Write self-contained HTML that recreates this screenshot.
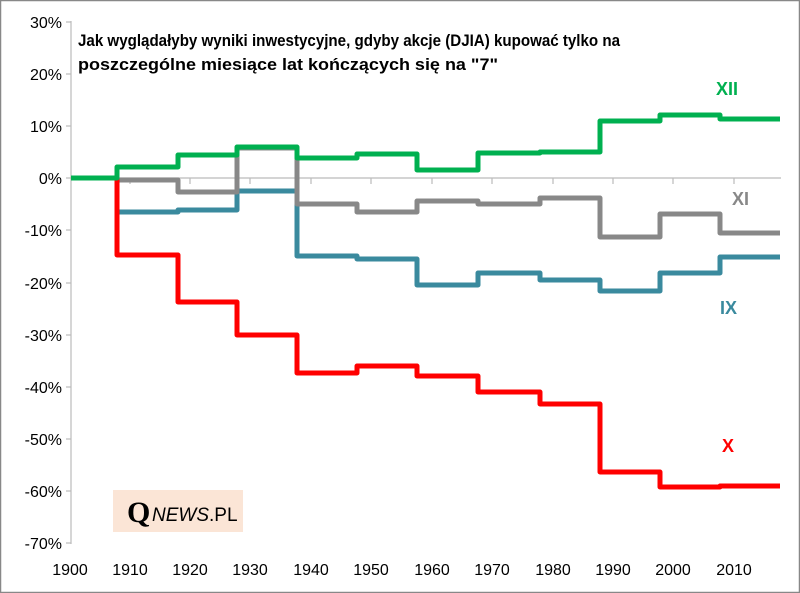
<!DOCTYPE html>
<html><head><meta charset="utf-8"><style>body{margin:0;background:#fff}svg{display:block}</style></head><body>
<svg width="800" height="593" xmlns="http://www.w3.org/2000/svg" font-family="Liberation Sans, sans-serif">
<rect x="0.5" y="0.5" width="799" height="592" fill="#fff" stroke="#888" stroke-width="1.5"/>
<g stroke="#bbb" stroke-width="1.2">
<line x1="71" y1="21" x2="71" y2="544"/>
<line x1="66" y1="22" x2="71" y2="22"/><line x1="66" y1="74" x2="71" y2="74"/><line x1="66" y1="126" x2="71" y2="126"/><line x1="66" y1="178" x2="71" y2="178"/><line x1="66" y1="230" x2="71" y2="230"/><line x1="66" y1="283" x2="71" y2="283"/><line x1="66" y1="335" x2="71" y2="335"/><line x1="66" y1="387" x2="71" y2="387"/><line x1="66" y1="439" x2="71" y2="439"/><line x1="66" y1="491" x2="71" y2="491"/><line x1="66" y1="543" x2="71" y2="543"/>
<line x1="71" y1="178" x2="781" y2="178"/>
<line x1="130" y1="178" x2="130" y2="184"/><line x1="190" y1="178" x2="190" y2="184"/><line x1="250" y1="178" x2="250" y2="184"/><line x1="311" y1="178" x2="311" y2="184"/><line x1="371" y1="178" x2="371" y2="184"/><line x1="432" y1="178" x2="432" y2="184"/><line x1="492" y1="178" x2="492" y2="184"/><line x1="553" y1="178" x2="553" y2="184"/><line x1="613" y1="178" x2="613" y2="184"/><line x1="673" y1="178" x2="673" y2="184"/><line x1="734" y1="178" x2="734" y2="184"/>
</g>
<g font-size="16" fill="#000" text-anchor="end">
<text x="62" y="28">30%</text><text x="62" y="80">20%</text><text x="62" y="132">10%</text><text x="62" y="184">0%</text><text x="62" y="236">-10%</text><text x="62" y="289">-20%</text><text x="62" y="341">-30%</text><text x="62" y="393">-40%</text><text x="62" y="445">-50%</text><text x="62" y="497">-60%</text><text x="62" y="549">-70%</text>
</g>
<g font-size="16" fill="#000" text-anchor="middle">
<text x="70" y="575">1900</text><text x="130" y="575">1910</text><text x="190" y="575">1920</text><text x="250" y="575">1930</text><text x="311" y="575">1940</text><text x="371" y="575">1950</text><text x="432" y="575">1960</text><text x="492" y="575">1970</text><text x="553" y="575">1980</text><text x="613" y="575">1990</text><text x="673" y="575">2000</text><text x="734" y="575">2010</text>
</g>
<g fill="none" stroke-width="5" stroke-linejoin="round">
<polyline stroke="#3a8a9e" points="117,212 178,212 178,210 237,210 237,191 297,191 297,256 357,256 357,259 417,259 417,285 478,285 478,273 540,273 540,280 600,280 600,291 660,291 660,273 720,273 720,257 780,257"/>
<polyline stroke="#888" points="117,180 178,180 178,192 237,192 237,148 297,148 297,204 357,204 357,212 417,212 417,201 478,201 478,204 540,204 540,198 600,198 600,237 660,237 660,214 720,214 720,233 780,233"/>
<polyline stroke="#ff0000" points="117,178 117,255 178,255 178,302 237,302 237,335 297,335 297,373 357,373 357,366 417,366 417,376 478,376 478,392 540,392 540,404 600,404 600,472 660,472 660,487 720,487 720,486 780,486"/>
<polyline stroke="#00b050" points="71,178 117,178 117,167 178,167 178,155 237,155 237,147 297,147 297,158 357,158 357,154 417,154 417,170 478,170 478,153 540,153 540,152 600,152 600,121 660,121 660,115 720,115 720,119 780,119"/>
</g>
<g font-size="16.5" font-weight="bold">
<text x="78" y="46" textLength="542" lengthAdjust="spacingAndGlyphs">Jak wyglądałyby wyniki inwestycyjne, gdyby akcje (DJIA) kupować tylko na</text>
<text x="78" y="70" textLength="420" lengthAdjust="spacingAndGlyphs">poszczególne miesiące lat kończących się na "7"</text>
</g>
<g font-size="18" font-weight="bold">
<text x="716" y="95" fill="#00b050">XII</text>
<text x="732" y="205" fill="#888">XI</text>
<text x="720" y="314" fill="#3a8a9e">IX</text>
<text x="722" y="452" fill="#ff0000">X</text>
</g>
<rect x="113" y="490" width="130" height="42" fill="#fbe5d6"/>
<text x="127" y="522" font-family="Liberation Serif, serif" font-size="30" font-weight="bold" fill="#000">Q</text>
<text x="152" y="521" font-size="19" fill="#000"><tspan font-style="italic">NEWS</tspan>.PL</text>
</svg>
</body></html>
